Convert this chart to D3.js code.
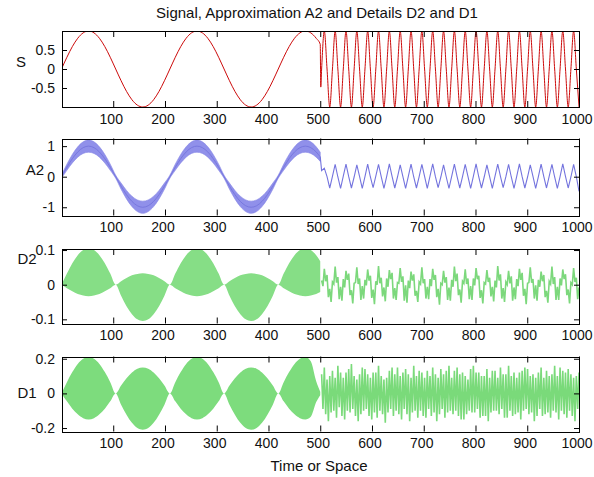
<!DOCTYPE html>
<html>
<head>
<meta charset="utf-8">
<script src="https://cdn.jsdelivr.net/npm/d3@7/dist/d3.min.js"></script>
<style>
  html, body { margin: 0; padding: 0; background: #fff; }
  svg { display: block; font-family: "Liberation Sans", Arial, Helvetica, sans-serif; }
</style>
</head>
<body>
<svg id="chart" width="594" height="477"></svg>
<script>
// ---- Data -------------------------------------------------------------
// Slow part (samples 0..500): tabulated every 1/20 of its period, plus t = 500.
const lowTimes = [0, 10.47, 20.94, 31.42, 41.89, 52.36, 62.83, 73.30, 83.78, 94.25,
  104.72, 115.19, 125.66, 136.14, 146.61, 157.08, 167.55, 178.02, 188.50, 198.97,
  209.44, 219.91, 230.38, 240.86, 251.33, 261.80, 272.27, 282.74, 293.22, 303.69,
  314.16, 324.63, 335.10, 345.58, 356.05, 366.52, 376.99, 387.46, 397.94, 408.41,
  418.88, 429.35, 439.82, 450.30, 460.77, 471.24, 481.71, 492.18, 500];
// Fast part (samples 500..1000): quarter-period grid (zero crossings and
// extremes) for S and A2, eighth-period grid for the details.
const highT0 = 502.65, quarterDt = 5.236, eighthDt = 2.618;

const xTicks = [100, 200, 300, 400, 500, 600, 700, 800, 900, 1000];
const xTickLabels = ["100", "200", "300", "400", "500", "600", "700", "800", "900", "1000"];

const sTicks = [-0.5, 0, 0.5];
const sTickLabels = ["-0.5", "0", "0.5"];
const a2Ticks = [-1, 0, 1];
const a2TickLabels = ["-1", "0", "1"];
const d2Ticks = [-0.1, 0, 0.1];
const d2TickLabels = ["-0.1", "0", "0.1"];
const d1Ticks = [-0.2, 0, 0.2];
const d1TickLabels = ["-0.2", "0", "0.2"];

// Signal S
const sLow = [
  0, .309, .588, .809, .951, 1, .951, .809, .588, .309,
  0, -.309, -.588, -.809, -.951, -1, -.951, -.809, -.588, -.309,
  0, .309, .588, .809, .951, 1, .951, .809, .588, .309,
  0, -.309, -.588, -.809, -.951, -1, -.951, -.809, -.588, -.309,
  0, .309, .588, .809, .951, 1, .951, .809, .650];
const sJumpTimes = [501];
const sJumpValues = [-0.476];
const sHigh = [
  0, 1, 0, -1, 0, 1, 0, -1, 0, 1, 0, -1, 0, 1, 0, -1, 0, 1, 0, -1, 0, 1, 0, -1,
  0, 1, 0, -1, 0, 1, 0, -1, 0, 1, 0, -1, 0, 1, 0, -1, 0, 1, 0, -1, 0, 1, 0, -1,
  0, 1, 0, -1, 0, 1, 0, -1, 0, 1, 0, -1, 0, 1, 0, -1, 0, 1, 0, -1, 0, 1, 0, -1,
  0, 1, 0, -1, 0, 1, 0, -1, 0, 1, 0, -1, 0, 1, 0, -1, 0, 1, 0, -1, 0, 1, 0, -1];

// Approximation A2: slow part (centre and ripple half-width), fast part
const a2Low = [
  0, .309, .588, .809, .951, 1, .951, .809, .588, .309,
  0, -.309, -.588, -.809, -.951, -1, -.951, -.809, -.588, -.309,
  0, .309, .588, .809, .951, 1, .951, .809, .588, .309,
  0, -.309, -.588, -.809, -.951, -1, -.951, -.809, -.588, -.309,
  0, .309, .588, .809, .951, 1, .951, .809, .650];
const a2Ripple = [
  .05, .10, .14, .17, .19, .20, .19, .17, .14, .10,
  .05, .10, .14, .17, .19, .20, .19, .17, .14, .10,
  .05, .10, .14, .17, .19, .20, .19, .17, .14, .10,
  .05, .10, .14, .17, .19, .20, .19, .17, .14, .10,
  .05, .10, .14, .17, .19, .20, .19, .17, .15];
const a2High = [
  0.20, 0.28, 0.00, -0.37,  0.01, 0.40, -0.01, -0.38,  0.02, 0.41, 0.00, -0.37,
  -0.01, 0.39, 0.01, -0.38,  0.00, 0.41, -0.01, -0.36,  0.02, 0.40, 0.00, -0.38,
  0.00, 0.42, 0.01, -0.37,  -0.01, 0.39, 0.00, -0.38,  0.01, 0.41, -0.01, -0.37,
  0.00, 0.40, 0.01, -0.38,  0.02, 0.42, 0.00, -0.36,  -0.01, 0.39, -0.01, -0.38,
  0.01, 0.41, 0.00, -0.37,  0.00, 0.40, 0.01, -0.38,  0.01, 0.42, -0.01, -0.37,
  -0.01, 0.39, 0.00, -0.38,  0.02, 0.41, 0.01, -0.36,  0.00, 0.40, -0.01, -0.38,
  0.01, 0.42, 0.00, -0.37,  -0.01, 0.39, 0.01, -0.38,  0.00, 0.41, 0.00, -0.37,
  0.02, 0.40, -0.01, -0.38,  0.00, 0.42, 0.01, -0.37,  -0.01, 0.40, 0.00, -0.48];

// Detail D2: slow-part envelope, fast part
const d2LowUpper = [
  0, .032, .062, .085, .100, .105, .100, .085, .062, .032,
  0, .010, .019, .027, .031, .033, .031, .027, .019, .010,
  0, .032, .062, .085, .100, .105, .100, .085, .062, .032,
  0, .010, .019, .027, .031, .033, .031, .027, .019, .010,
  0, .032, .062, .085, .100, .105, .100, .085, .068];
const d2LowLower = [
  0, -.010, -.019, -.027, -.031, -.033, -.031, -.027, -.019, -.010,
  0, -.032, -.062, -.085, -.100, -.105, -.100, -.085, -.062, -.032,
  0, -.010, -.019, -.027, -.031, -.033, -.031, -.027, -.019, -.010,
  0, -.032, -.062, -.085, -.100, -.105, -.100, -.085, -.062, -.032,
  0, -.010, -.019, -.027, -.031, -.033, -.031, -.027, -.021];
const d2High = [
  0.012, -0.004, 0.046, 0.010, 0.028, -0.036, -0.012, -0.050,
  0.008, 0.002, 0.052, 0.006, 0.022, -0.042, -0.006, -0.046,
  0.016, -0.008, 0.040, 0.014, 0.032, -0.030, -0.016, -0.054,
  0.004, 0.006, 0.050, 0.002, 0.018, -0.044, -0.004, -0.040,
  0.014, -0.002, 0.044, 0.012, 0.026, -0.038, -0.014, -0.056,
  0.010, 0.000, 0.054, 0.004, 0.020, -0.034, -0.008, -0.048,
  0.018, -0.006, 0.042, 0.016, 0.034, -0.040, -0.010, -0.044,
  0.006, 0.004, 0.048, 0.008, 0.024, -0.046, -0.002, -0.052,
  0.012, -0.010, 0.038, 0.012, 0.030, -0.032, -0.018, -0.050,
  0.008, 0.002, 0.050, 0.004, 0.016, -0.040, -0.006, -0.042,
  0.016, -0.004, 0.046, 0.014, 0.028, -0.036, -0.012, -0.058,
  0.004, 0.000, 0.040, 0.006, 0.022, -0.044, -0.008, -0.046,
  0.014, -0.006, 0.052, 0.010, 0.032, -0.030, -0.014, -0.052,
  0.010, 0.004, 0.044, 0.002, 0.018, -0.042, -0.004, -0.044,
  0.018, -0.002, 0.048, 0.016, 0.026, -0.038, -0.016, -0.054,
  0.006, 0.002, 0.042, 0.008, 0.020, -0.034, -0.006, -0.048,
  0.012, -0.008, 0.054, 0.012, 0.030, -0.040, -0.010, -0.050,
  0.008, 0.000, 0.040, 0.004, 0.024, -0.046, -0.008, -0.042,
  0.016, -0.004, 0.046, 0.014, 0.034, -0.032, -0.012, -0.056,
  0.004, 0.006, 0.050, 0.006, 0.016, -0.040, -0.002, -0.046,
  0.014, -0.006, 0.038, 0.010, 0.028, -0.036, -0.018, -0.052,
  0.010, 0.002, 0.052, 0.002, 0.022, -0.044, -0.006, -0.044,
  0.018, -0.002, 0.044, 0.016, 0.030, -0.030, -0.014, -0.054,
  0.006, 0.000, 0.048, 0.008, 0.020, -0.042, -0.008, -0.048];

// Detail D1: slow-part envelope, fast part
const d1LowUpper = [
  0, .065, .123, .170, .200, .210, .200, .170, .123, .065,
  0, .046, .088, .121, .143, .150, .143, .121, .088, .046,
  0, .065, .123, .170, .200, .210, .200, .170, .123, .065,
  0, .046, .088, .121, .143, .150, .143, .121, .088, .046,
  0, .065, .123, .170, .200, .210, .185, .070, .010];
const d1LowLower = [
  0, -.046, -.088, -.121, -.143, -.150, -.143, -.121, -.088, -.046,
  0, -.065, -.123, -.170, -.200, -.210, -.200, -.170, -.123, -.065,
  0, -.046, -.088, -.121, -.143, -.150, -.143, -.121, -.088, -.046,
  0, -.065, -.123, -.170, -.200, -.210, -.200, -.170, -.123, -.065,
  0, -.046, -.088, -.121, -.143, -.150, -.135, -.050, -.010];
const d1High = [
  0.11, -0.09, 0.15, -0.12, 0.08, -0.16, 0.10, -0.11,
  0.13, -0.10, 0.09, -0.14, 0.16, -0.08, 0.12, -0.13,
  0.09, -0.15, 0.12, -0.10, 0.14, -0.11, 0.17, -0.09,
  0.10, -0.13, 0.08, -0.16, 0.11, -0.12, 0.15, -0.10,
  0.14, -0.09, 0.11, -0.13, 0.09, -0.15, 0.12, -0.11,
  0.12, -0.14, 0.16, -0.10, 0.10, -0.12, 0.08, -0.17,
  0.09, -0.11, 0.13, -0.09, 0.15, -0.13, 0.11, -0.10,
  0.15, -0.12, 0.10, -0.15, 0.12, -0.09, 0.14, -0.12,
  0.11, -0.16, 0.09, -0.11, 0.16, -0.10, 0.10, -0.14,
  0.13, -0.10, 0.12, -0.13, 0.09, -0.14, 0.13, -0.09,
  0.10, -0.13, 0.15, -0.11, 0.11, -0.16, 0.09, -0.12,
  0.14, -0.09, 0.11, -0.14, 0.13, -0.11, 0.16, -0.10,
  0.09, -0.12, 0.13, -0.10, 0.15, -0.13, 0.11, -0.15,
  0.12, -0.15, 0.10, -0.12, 0.08, -0.10, 0.14, -0.11,
  0.16, -0.11, 0.12, -0.09, 0.12, -0.14, 0.10, -0.13,
  0.10, -0.13, 0.14, -0.16, 0.09, -0.11, 0.13, -0.10,
  0.13, -0.10, 0.09, -0.12, 0.15, -0.09, 0.11, -0.14,
  0.11, -0.14, 0.16, -0.10, 0.10, -0.13, 0.12, -0.12,
  0.09, -0.11, 0.12, -0.15, 0.13, -0.10, 0.15, -0.09,
  0.14, -0.12, 0.10, -0.11, 0.11, -0.16, 0.09, -0.13,
  0.12, -0.09, 0.15, -0.13, 0.09, -0.12, 0.13, -0.11,
  0.10, -0.14, 0.11, -0.10, 0.16, -0.11, 0.10, -0.15,
  0.15, -0.10, 0.13, -0.12, 0.12, -0.14, 0.14, -0.10,
  0.11, -0.13, 0.09, -0.16, 0.10, -0.09, 0.12, -0.12];

// ---- Layout -----------------------------------------------------------
const svg = d3.select("#chart");
const left = 62, right = 579;
const TITLE_FONT = 15, TICK_FONT = 14;

const x = d3.scaleLinear().domain([1, 1000]).range([left, right]);

const panels = [
  { id: "s",  label: "S",  lx: 21, ly: 66.5, top: 31,    bottom: 107,   domain: [-1, 1],         ticks: sTicks,  tickLabels: sTickLabels },
  { id: "a2", label: "A2", lx: 35, ly: 175,  top: 138.5, bottom: 215.5, domain: [-1.27, 1.25],   ticks: a2Ticks, tickLabels: a2TickLabels },
  { id: "d2", label: "D2", lx: 27, ly: 264,  top: 249,   bottom: 323.5, domain: [-0.112, 0.103], ticks: d2Ticks, tickLabels: d2TickLabels },
  { id: "d1", label: "D1", lx: 27, ly: 398,  top: 356.5, bottom: 431.5, domain: [-0.22, 0.213],  ticks: d1Ticks, tickLabels: d1TickLabels }
];

const lowPts = vals => vals.map((v, i) => ({ t: lowTimes[i], v }));
const highPts = (vals, dt) => vals.map((v, i) => ({ t: highT0 + i * dt, v }));

// Title
svg.append("text")
  .attr("x", 317).attr("y", 17.5)
  .attr("text-anchor", "middle")
  .attr("font-size", TITLE_FONT)
  .attr("fill", "#111")
  .text("Signal, Approximation A2 and Details D2 and D1");

// x label
svg.append("text")
  .attr("x", 319).attr("y", 471)
  .attr("text-anchor", "middle")
  .attr("font-size", TITLE_FONT)
  .attr("fill", "#111")
  .text("Time or Space");

const defs = svg.append("defs");

panels.forEach(p => {
  const y = d3.scaleLinear().domain(p.domain).range([p.bottom, p.top]);
  p.y = y;
  defs.append("clipPath").attr("id", "clip-" + p.id)
    .append("rect")
    .attr("x", left).attr("y", p.top)
    .attr("width", right - left).attr("height", p.bottom - p.top);

  const g = svg.append("g");
  p.plot = g.append("g").attr("clip-path", `url(#clip-${p.id})`);

  // axes: ticks point inward, the box is drawn separately
  const styleAxis = sel => {
    sel.select(".domain").remove();
    sel.attr("font-size", TICK_FONT).attr("font-family", null);
    sel.selectAll(".tick line").attr("stroke", "#000");
    sel.selectAll(".tick text").attr("fill", "#111");
  };
  g.append("g").attr("transform", `translate(0,${p.bottom})`)
    .call(d3.axisBottom(x).tickValues(xTicks).tickFormat((d, i) => xTickLabels[i])
      .tickSize(-6).tickPadding(6.8))
    .call(styleAxis)
    .call(sel => sel.selectAll(".tick text").attr("dx", -2.5));
  g.append("g").attr("transform", `translate(0,${p.top})`)
    .call(d3.axisTop(x).tickValues(xTicks).tickFormat("").tickSize(-6))
    .call(styleAxis);
  g.append("g").attr("transform", `translate(${left},0)`)
    .call(d3.axisLeft(y).tickValues(p.ticks).tickFormat((d, i) => p.tickLabels[i])
      .tickSize(-5).tickPadding(7))
    .call(styleAxis);
  g.append("g").attr("transform", `translate(${right},0)`)
    .call(d3.axisRight(y).tickValues(p.ticks).tickFormat("").tickSize(-5))
    .call(styleAxis);

  g.append("rect")
    .attr("x", left + 0.5).attr("y", Math.round(p.top) + 0.5)
    .attr("width", right - left).attr("height", Math.round(p.bottom) - Math.round(p.top))
    .attr("fill", "none").attr("stroke", "#000").attr("stroke-width", 1);

  g.append("text")
    .attr("x", p.lx).attr("y", p.ly)
    .attr("text-anchor", "middle")
    .attr("font-size", TITLE_FONT)
    .attr("fill", "#111")
    .text(p.label);
});

const [pS, pA2, pD2, pD1] = panels;

// S : signal
{
  const jump = sJumpValues.map((v, i) => ({ t: sJumpTimes[i], v }));
  const pts = lowPts(sLow).concat(jump, highPts(sHigh, quarterDt));
  pS.plot.append("path")
    .attr("d", d3.line().x(d => x(d.t)).y(d => pS.y(d.v)).curve(d3.curveMonotoneX)(pts))
    .attr("fill", "none").attr("stroke", "#cc0a0a").attr("stroke-width", 1);
}

// A2 : approximation
{
  const low = lowPts(a2Low).map((d, i) => ({ t: d.t, v: d.v, w: a2Ripple[i] }));
  pA2.plot.append("path")
    .attr("d", d3.area().x(d => x(d.t)).y0(d => pA2.y(d.v - d.w)).y1(d => pA2.y(d.v + d.w))
      .curve(d3.curveMonotoneX)(low))
    .attr("fill", "#9090ea").attr("stroke", "#8686e6").attr("stroke-width", 0.6);
  pA2.plot.append("path")
    .attr("d", d3.line().x(d => x(d.t)).y(d => pA2.y(d.v)).curve(d3.curveMonotoneX)(low))
    .attr("fill", "none").attr("stroke", "#7878de").attr("stroke-width", 1);
  const high = [low[low.length - 1]].concat(highPts(a2High, quarterDt));
  pA2.plot.append("path")
    .attr("d", d3.line().x(d => x(d.t)).y(d => pA2.y(d.v))(high))
    .attr("fill", "none").attr("stroke", "#7474de").attr("stroke-width", 1.1);
}

// D2 : level-2 detail
{
  const low = lowPts(d2LowUpper).map((d, i) => ({ t: d.t, hi: d.v, lo: d2LowLower[i] }));
  pD2.plot.append("path")
    .attr("d", d3.area().x(d => x(d.t)).y0(d => pD2.y(d.lo)).y1(d => pD2.y(d.hi))
      .curve(d3.curveMonotoneX)(low))
    .attr("fill", "#86de86");
  pD2.plot.append("path")
    .attr("d", d3.line().x(d => x(d.t)).y(d => pD2.y(d.v))(highPts(d2High, eighthDt)))
    .attr("fill", "none").attr("stroke", "#7cd87c").attr("stroke-width", 1.6);
}

// D1 : level-1 detail
{
  const low = lowPts(d1LowUpper).map((d, i) => ({ t: d.t, hi: d.v, lo: d1LowLower[i] }));
  pD1.plot.append("path")
    .attr("d", d3.area().x(d => x(d.t)).y0(d => pD1.y(d.lo)).y1(d => pD1.y(d.hi))
      .curve(d3.curveMonotoneX)(low))
    .attr("fill", "#7ddc7d");
  pD1.plot.append("path")
    .attr("d", d3.line().x(d => x(d.t)).y(d => pD1.y(d.v))(highPts(d1High, eighthDt)))
    .attr("fill", "none").attr("stroke", "#7ada7a").attr("stroke-width", 1.6);
}
</script>
</body>
</html>
